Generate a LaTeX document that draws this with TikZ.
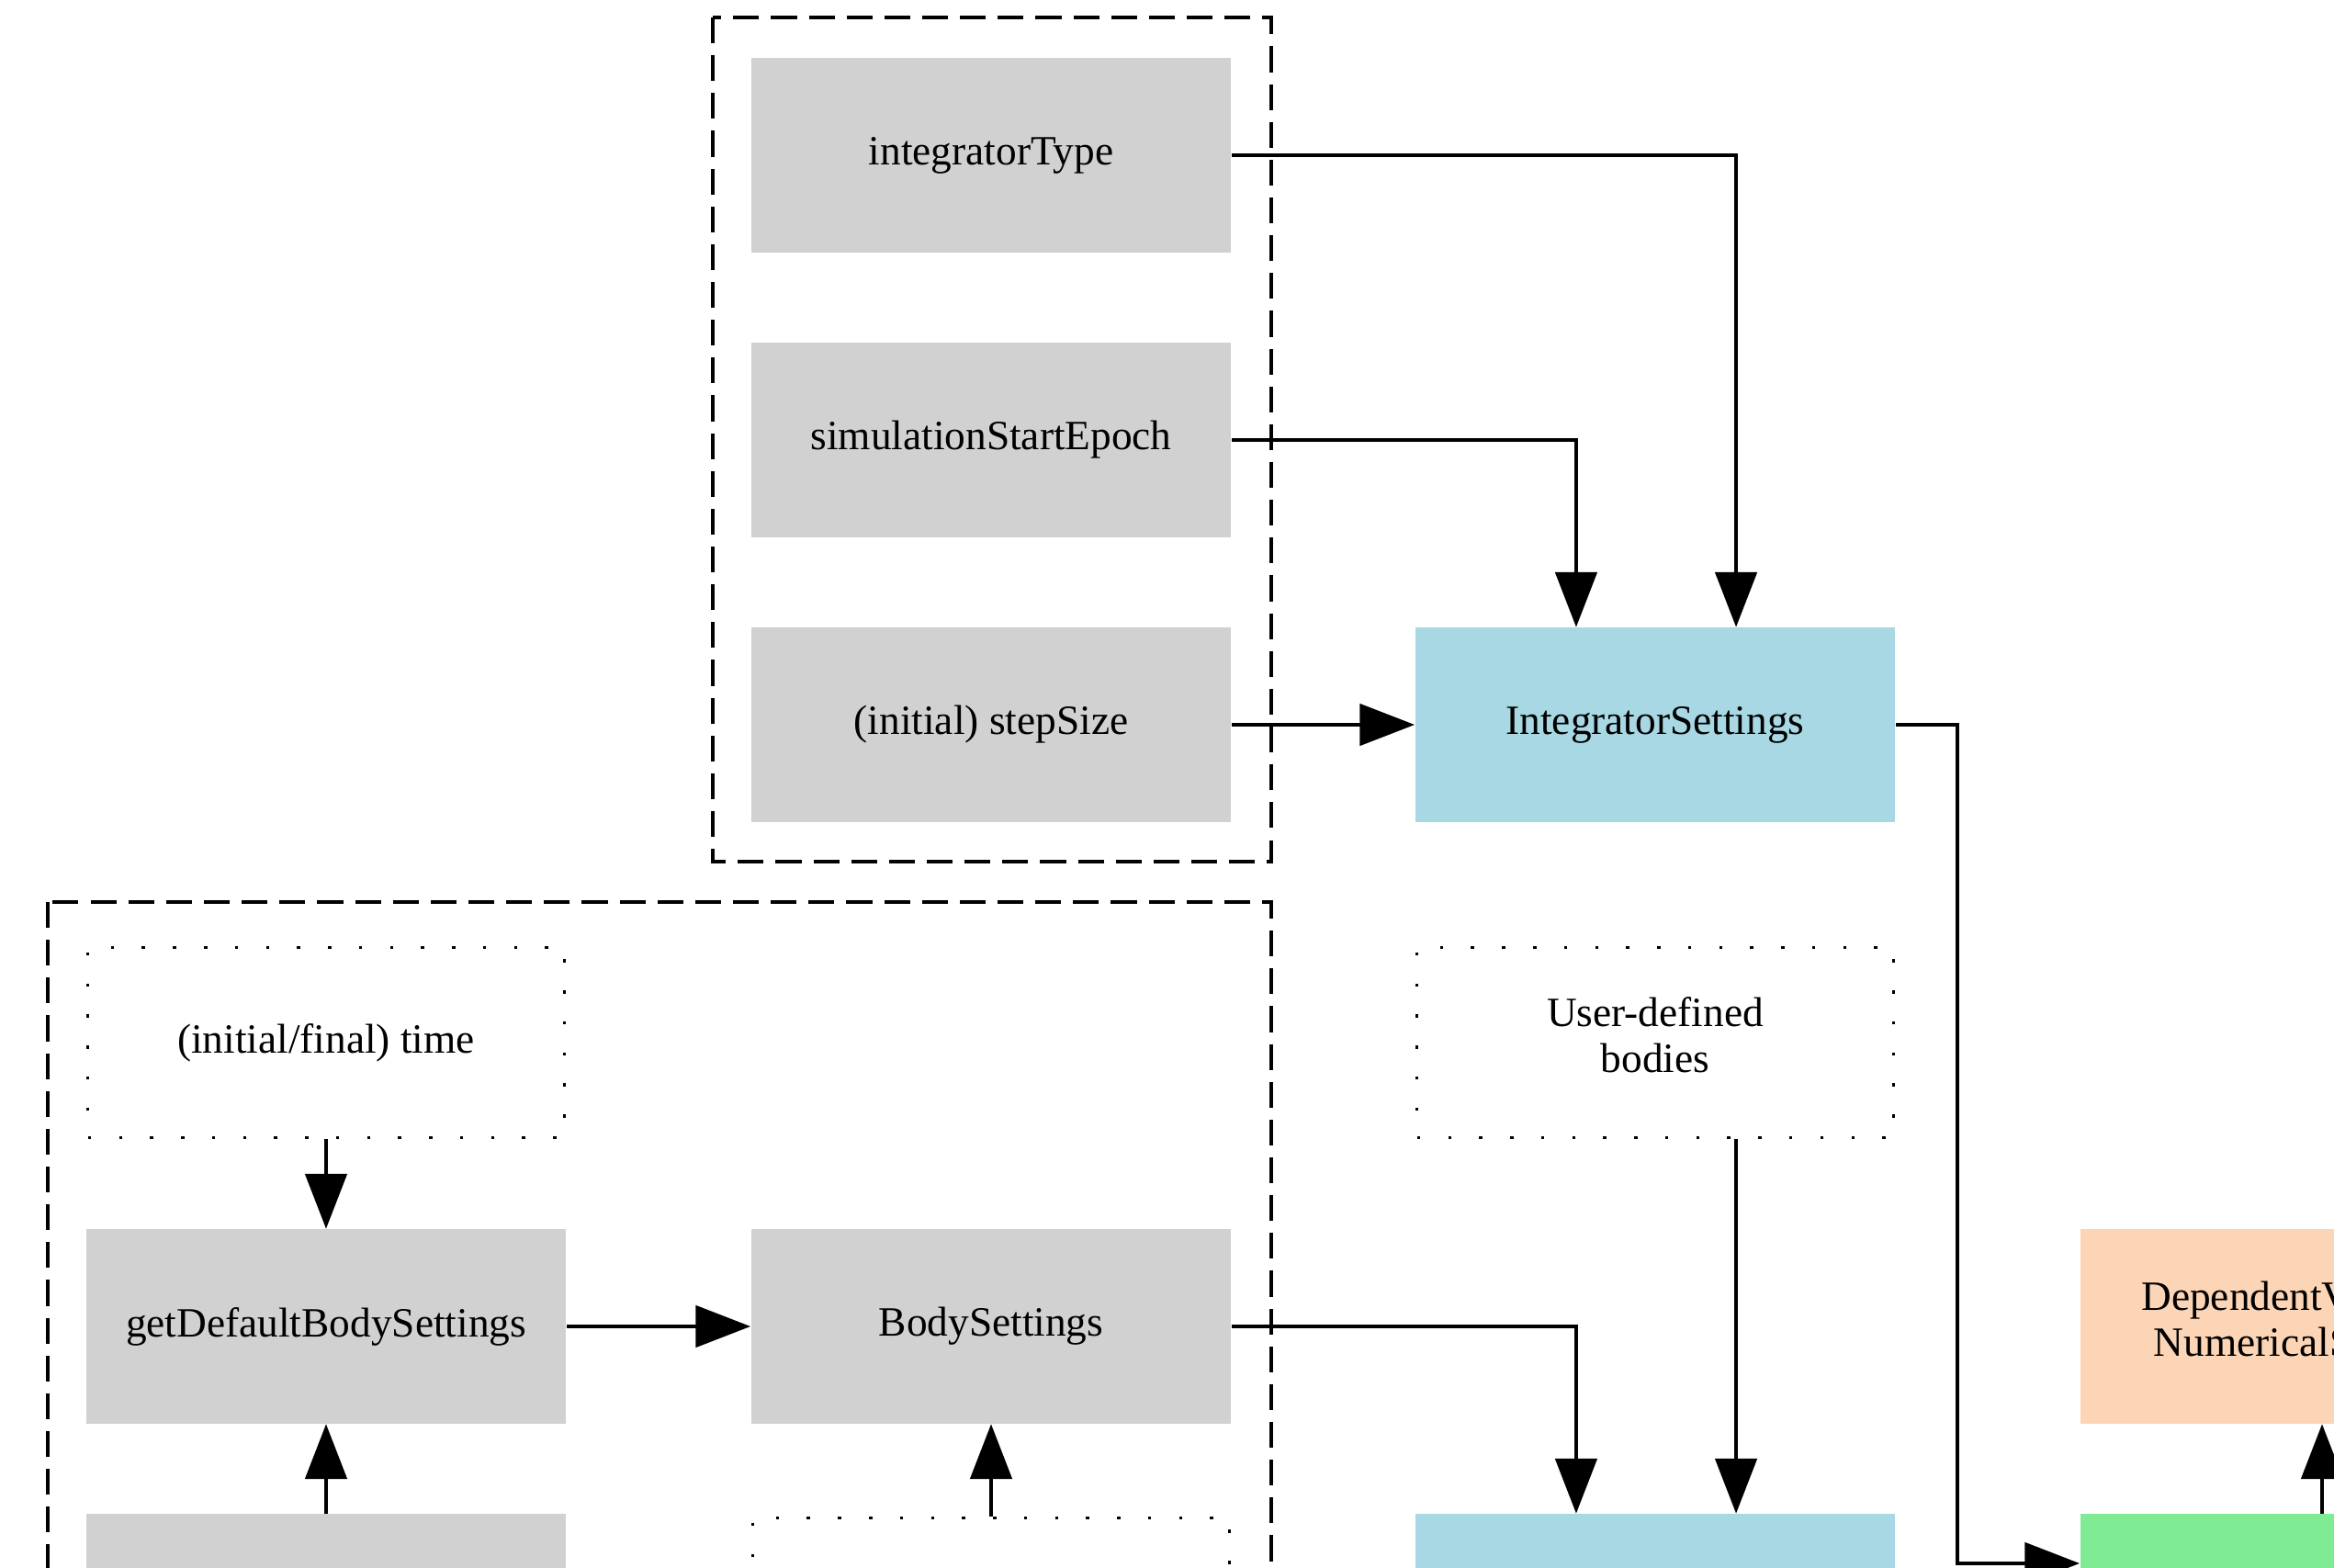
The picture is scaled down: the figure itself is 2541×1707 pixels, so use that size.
\documentclass[tikz,border=0pt]{standalone}
\usepackage{fontspec}
\setmainfont{Liberation Serif}
\usetikzlibrary{arrows.meta}

\definecolor{boxgray}{HTML}{D1D1D1}
\definecolor{boxblue}{HTML}{A8D8E3}
\definecolor{boxpeach}{HTML}{FCD5B6}
\definecolor{boxgreen}{HTML}{7FEB94}

\newcommand\lowline{\rule[-4.6pt]{0pt}{0pt}}

\begin{document}
\begin{tikzpicture}[x=0.01cm, y=-0.01cm,
    every node/.style={minimum width=5.22cm, minimum height=2.11cm,
      inner sep=0pt, align=center, font=\fontsize{12.9}{14.2}\selectfont},
    input/.style={fill=boxgray},
    setting/.style={fill=boxblue},
    output/.style={fill=boxpeach},
    core/.style={fill=boxgreen},
    user/.style={draw, line width=0.9pt, dash pattern=on 1pt off 8.6pt,
      minimum width=5.18cm, minimum height=2.07cm},
    cluster/.style={line width=1.3pt, dash pattern=on 8pt off 3.7pt},
    arr/.style={line width=1.3pt, -{Triangle[length=17pt, width=12.8pt]}}]

  \useasboundingbox (0,0) rectangle (2541,1707);

  \draw[cluster] (776,19) rectangle (1384,938);
  \draw[cluster] (52,982) rectangle (1384,2300);

  \node[input] (intType) at (1079,169) {integratorType};
  \node[input] (simEpoch) at (1079,479) {simulationStartEpoch};
  \node[input] (stepSize) at (1079,789) {(initial) stepSize};
  \node[setting] (intSettings) at (1802,789) {IntegratorSettings};

  \node[user] (simTime) at (355,1135) {(initial/final) time};
  \node[input] (defaultBodies) at (355,1444) {getDefaultBodySettings};
  \node[input] (bodySettings) at (1079,1444) {BodySettings};
  \node[user] (userBodies) at (1802,1135) {User-defined\\bodies\lowline};

  \node[input] (lowerLeft) at (355,1754) {};
  \node[user] (lowerMid) at (1079,1756) {};
  \node[setting] (bodyMap) at (1802,1754) {};
  \node[core] (simulator) at (2526,1754) {};
  \node[output] (results) at (2526,1444) {DependentVariables /\\NumericalSolutions\lowline};

  \draw[arr] (intType.east) -| ([xshift=0.88cm]intSettings.north);
  \draw[arr] (simEpoch.east) -| ([xshift=-0.86cm]intSettings.north);
  \draw[arr] (stepSize.east) -- (intSettings.west);
  \draw[arr] (intSettings.east) -- ++(67,0) |- ([yshift=0.52cm]simulator.west);

  \draw[arr] (simTime.south) -- (defaultBodies.north);
  \draw[arr] (defaultBodies.east) -- (bodySettings.west);
  \draw[arr] (lowerLeft.north) -- (defaultBodies.south);
  \draw[arr] (lowerMid.north) -- (bodySettings.south);
  \draw[arr] (bodySettings.east) -| ([xshift=-0.86cm]bodyMap.north);
  \draw[arr] ([xshift=0.88cm]userBodies.south) -- ([xshift=0.88cm]bodyMap.north);
  \draw[arr] ([xshift=0.02cm]simulator.north) -- ([xshift=0.02cm]results.south);

\end{tikzpicture}
\end{document}
